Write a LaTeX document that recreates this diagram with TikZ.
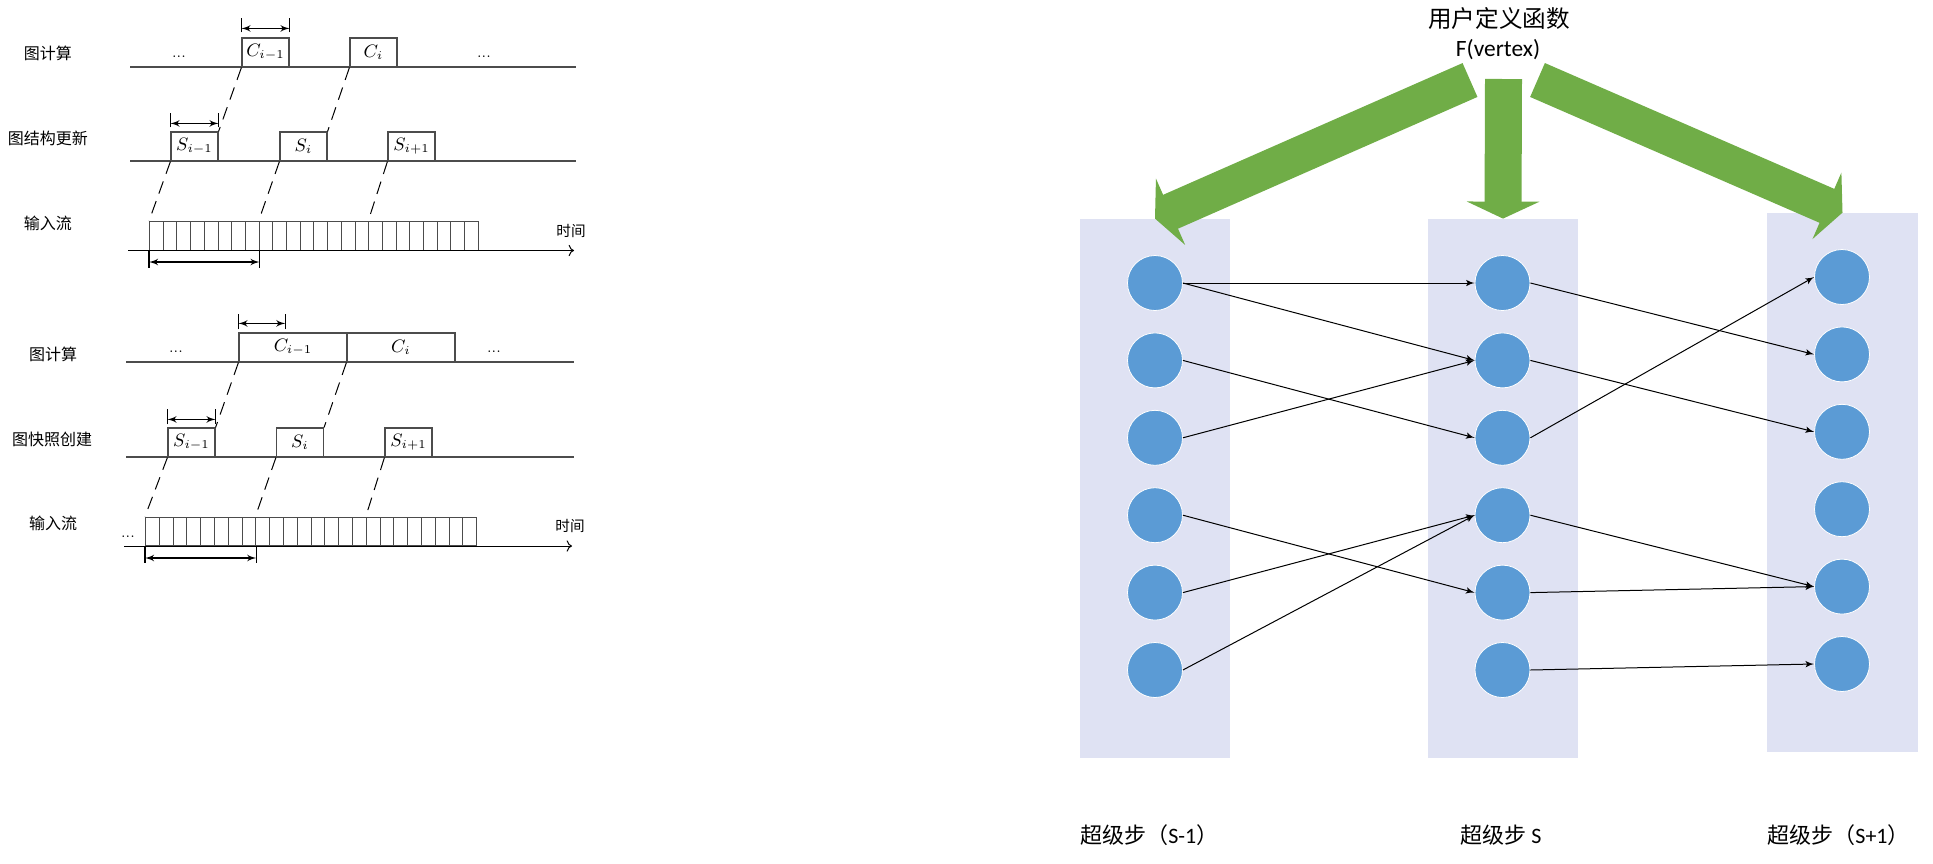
\documentclass[tikz,border=0pt]{standalone}
\usepackage{fontspec}
\usepackage{xcolor}
\usepackage{tikz}
\usetikzlibrary{shapes,arrows,arrows.meta}
\newfontfamily\cjk{Noto Sans CJK SC}
\newfontfamily\calibri{Carlito}
\definecolor{vblue}{HTML}{5B9BD5}
\definecolor{fgreen}{HTML}{70AD47}
\definecolor{colbg}{HTML}{DFE2F3}
\tikzstyle{rowname} = [font=\cjk\fontsize{8}{9}\selectfont, inner sep=0pt]
\tikzstyle{slot} = [rectangle, draw=black!70, line width=0.6pt, minimum width=23.5pt, minimum height=14.5pt, inner sep=0pt, font=\fontsize{9}{10}\selectfont]
\tikzstyle{wideslot} = [slot, minimum width=54pt]
\tikzstyle{cell} = [rectangle, draw=black!70, line width=0.5pt, minimum width=6.85pt, minimum height=14.25pt, inner sep=0pt, anchor=south west]
\tikzstyle{dots} = [font=\fontsize{7}{8}\selectfont, inner sep=0pt]
\tikzstyle{rowline} = [draw=black!70, line width=0.6pt]
\tikzstyle{axis} = [draw, ->, line width=0.5pt]
\tikzstyle{dashline} = [draw, line width=0.5pt, dash pattern=on 6.5pt off 4pt]
\tikzstyle{span} = [draw, latex'-latex', line width=0.6pt]
\tikzstyle{tick} = [draw, line width=0.6pt]
\tikzstyle{vertex} = [circle, fill=vblue, draw=white, line width=0.4pt, minimum size=27.5pt, inner sep=0pt, node distance=38.7pt]
\tikzstyle{column} = [rectangle, fill=colbg, minimum width=75pt, minimum height=269.5pt, inner sep=0pt]
\tikzstyle{line} = [draw, -latex', line width=0.5pt]
\tikzstyle{bigarrow} = [draw=fgreen, line width=18.5pt, -{Triangle[width=36pt,length=8.5pt]}]
\tikzstyle{stepname} = [anchor=west, inner sep=0pt, font=\fontsize{11}{13}\selectfont]

\begin{document}
\begin{tikzpicture}[x=0.5pt, y=-0.5pt]
    \useasboundingbox (0,0) rectangle (1933,863);

    % Upper timing chart
    \node [rowname] (na1) at (48,53) {图计算};
    \node [rowname] (na2) at (48,138) {图结构更新};
    \node [rowname] (na3) at (48,223) {输入流};
    \path [rowline] (130,67) -- (576,67);
    \path [rowline] (130,161) -- (576,161);
    \node [slot] (ca1) at (265.5,52.5) {$C_{i-1}$};
    \node [slot] (ca2) at (373.5,52.5) {$C_i$};
    \node [dots] (da1) at (179,57) {...};
    \node [dots] (da2) at (484,57) {...};
    \node [slot] (sa1) at (194.5,146.5) {$S_{i-1}$};
    \node [slot] (sa2) at (303.5,146.5) {$S_i$};
    \node [slot] (sa3) at (411.5,146.5) {$S_{i+1}$};
    \foreach \i in {0,...,23}
        \node [cell] (ta\i) at (149+13.7*\i,250.5) {};
    \path [axis] (128,250.5) -- (574,250.5);
    \node [rowname, font=\cjk\fontsize{7.3}{8}\selectfont] (tma) at (571,231) {时间};

    % Upper spans
    \path [tick] ([yshift=2.5pt]ca1.north west) -- ([yshift=9.5pt]ca1.north west);
    \path [tick] ([yshift=2.5pt]ca1.north east) -- ([yshift=9.5pt]ca1.north east);
    \path [span] ([yshift=4.5pt]ca1.north west) -- ([yshift=4.5pt]ca1.north east);
    \path [tick] ([yshift=2pt]sa1.north west) -- ([yshift=9pt]sa1.north west);
    \path [tick] ([yshift=2pt]sa1.north east) -- ([yshift=9pt]sa1.north east);
    \path [span] ([yshift=4pt]sa1.north west) -- ([yshift=4pt]sa1.north east);
    \path [tick] (ta0.south west) -- ([yshift=-8.5pt]ta0.south west);
    \path [tick] (ta7.south east) -- ([yshift=-8.5pt]ta7.south east);
    \path [span] ([yshift=-5.75pt]ta0.south west) -- ([yshift=-5.75pt]ta7.south east);

    % Upper dashes
    \path [dashline] (ca1.south west) -- (sa1.north east);
    \path [dashline] (ca2.south west) -- (sa2.north east);
    \path [dashline] (sa1.south west) -- (ta0.north west);
    \path [dashline] (sa2.south west) -- (ta8.north west);
    \path [dashline] (sa3.south west) -- (ta16.north west);

    % Lower timing chart
    \node [rowname] (nb1) at (53,354) {图计算};
    \node [rowname] (nb2) at (52,439) {图快照创建};
    \node [rowname] (nb3) at (53,523) {输入流};
    \path [rowline] (126,362) -- (574,362);
    \path [rowline] (126,457) -- (574,457);
    \node [wideslot] (cb1) at (293,347.5) {$C_{i-1}$};
    \node [wideslot] (cb2) at (401,347.5) {$C_i$};
    \node [dots] (db1) at (176,352) {...};
    \node [dots] (db2) at (494,352) {...};
    \node [dots] (db3) at (128,537) {...};
    \node [slot] (sb1) at (191.5,442.5) {$S_{i-1}$};
    \node [slot] (sb2) at (300,442.5) {$S_i$};
    \node [slot] (sb3) at (408.5,442.5) {$S_{i+1}$};
    \foreach \i in {0,...,23}
        \node [cell] (tb\i) at (145+13.8*\i,546) {};
    \path [axis] (124,546) -- (572,546);
    \node [rowname, font=\cjk\fontsize{7.3}{8}\selectfont] (tmb) at (570,526) {时间};

    % Lower spans
    \path [tick] ([yshift=1.5pt]cb1.north west) -- ([yshift=9pt]cb1.north west);
    \path [tick] ([yshift=1.5pt]cb1.north west) ++(47,0) -- ++(0,-15);
    \path [span] ([yshift=4.5pt]cb1.north west) -- ++(47,0);
    \path [tick] ([yshift=1.5pt]sb1.north west) -- ([yshift=9pt]sb1.north west);
    \path [tick] ([yshift=1.5pt]sb1.north east) -- ([yshift=9pt]sb1.north east);
    \path [span] ([yshift=4pt]sb1.north west) -- ([yshift=4pt]sb1.north east);
    \path [tick] (tb0.south west) -- ([yshift=-8.5pt]tb0.south west);
    \path [tick] (tb7.south east) -- ([yshift=-8.5pt]tb7.south east);
    \path [span] ([yshift=-6pt]tb0.south west) -- ([yshift=-6pt]tb7.south east);

    % Lower dashes
    \path [dashline] (cb1.south west) -- (sb1.north east);
    \path [dashline] (cb2.south west) -- (sb2.north east);
    \path [dashline] (sb1.south west) -- (tb0.north west);
    \path [dashline] (sb2.south west) -- (tb8.north west);
    \path [dashline] (sb3.south west) -- (tb16.north west);

    % Supersteps
    \node [column] (col1) at (1155,488.5) {};
    \node [column] (col2) at (1503,488.5) {};
    \node [column, minimum width=75.5pt] (col3) at (1842.5,482.5) {};
    \node [inner sep=0pt, font=\cjk\fontsize{11.8}{13}\selectfont] (udf) at (1499,19) {用户定义函数};
    \node [inner sep=0pt, font=\calibri\fontsize{11.7}{13}\selectfont] (fv) at (1498,50) {F(vertex)};
    \coordinate (gl) at (1470,80);
    \coordinate (gm) at (1503.5,79);
    \coordinate (gr) at (1537.5,80);
    \path [bigarrow] (gl) -- (col1.north);
    \path [bigarrow] (gm) -- (col2.north);
    \path [bigarrow] (gr) -- (col3.north);

    % Place nodes
    \node [vertex] (a1) at (1155,283) {};
    \node [vertex, below of=a1] (a2) {};
    \node [vertex, below of=a2] (a3) {};
    \node [vertex, below of=a3] (a4) {};
    \node [vertex, below of=a4] (a5) {};
    \node [vertex, below of=a5] (a6) {};
    \node [vertex] (b1) at (1502.5,283) {};
    \node [vertex, below of=b1] (b2) {};
    \node [vertex, below of=b2] (b3) {};
    \node [vertex, below of=b3] (b4) {};
    \node [vertex, below of=b4] (b5) {};
    \node [vertex, below of=b5] (b6) {};
    \node [vertex] (c1) at (1842,277) {};
    \node [vertex, below of=c1] (c2) {};
    \node [vertex, below of=c2] (c3) {};
    \node [vertex, below of=c3] (c4) {};
    \node [vertex, below of=c4] (c5) {};
    \node [vertex, below of=c5] (c6) {};

    \node [stepname] (s1) at (1080,835) {\cjk 超级步（\calibri S-1\cjk ）};
    \node [stepname] (s2) at (1460,835) {\cjk 超级步 \calibri S};
    \node [stepname] (s3) at (1767,835) {\cjk 超级步（\calibri S+1\cjk ）};

    % Draw edges
    \path [line] (a1.east) -- (b1.west);
    \path [line] (a1.east) -- (b2.west);
    \path [line] (a2.east) -- (b3.west);
    \path [line] (a3.east) -- (b2.west);
    \path [line] (a4.east) -- (b5.west);
    \path [line] (a5.east) -- (b4.west);
    \path [line] (a6.east) -- (b4.west);
    \path [line] (b1.east) -- (c2.west);
    \path [line] (b2.east) -- (c3.west);
    \path [line] (b3.east) -- (c1.west);
    \path [line] (b4.east) -- (c5.west);
    \path [line] (b5.east) -- (c5.west);
    \path [line] (b6.east) -- (c6.west);
\end{tikzpicture}
\end{document}
